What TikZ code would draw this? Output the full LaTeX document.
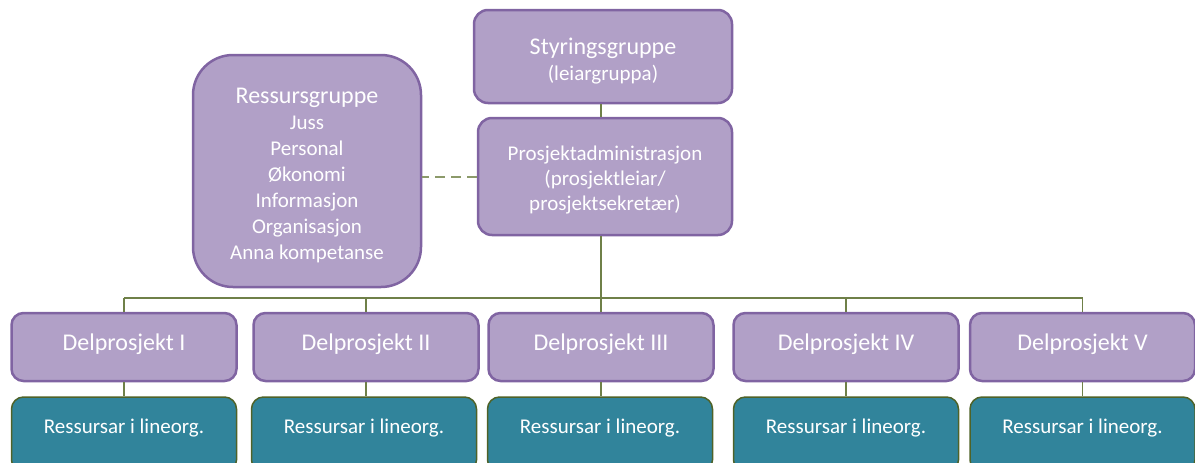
\documentclass[tikz,border=0pt]{standalone}
\usepackage{fontspec}
\setmainfont{Carlito}
\definecolor{pfill}{HTML}{B1A0C7}
\definecolor{pline}{HTML}{8064A2}
\definecolor{tfill}{HTML}{31849B}
\definecolor{tline}{HTML}{4F6228}
\definecolor{conn}{HTML}{6F8048}
\definecolor{dashc}{HTML}{8C9A6A}
\newcommand{\bigtxt}{\fontsize{24}{26}\selectfont}
\tikzset{
  pbox/.style={draw=pline, fill=pfill, line width=2.5pt, rounded corners=14pt,
    text=white, align=center, inner sep=0pt, font=\fontsize{21}{26}\selectfont},
  dbox/.style={pbox, minimum width=225pt, minimum height=68pt, rounded corners=12pt,
    font=\bigtxt, text depth=9pt},
  tbox/.style={draw=tline, fill=tfill, line width=1.5pt, rounded corners=12pt,
    text=white, align=center, inner sep=0pt, minimum width=225pt, minimum height=75pt,
    font=\fontsize{21}{24}\selectfont, text depth=16.5pt},
  cline/.style={draw=conn, line width=1.5pt},
  dline/.style={draw=dashc, line width=2pt, dash pattern=on 10pt off 6pt},
}
\begin{document}
\begin{tikzpicture}[x=1pt,y=-1pt]
\useasboundingbox (0,0) rectangle (1195,463);
% top boxes
\node[pbox, minimum width=258pt, minimum height=93pt] (styr) at (603,56.5)
  {{\bigtxt\rule{0pt}{26pt}Styringsgruppe}\\(leiargruppa)};
\node[pbox, minimum width=254pt, minimum height=117pt, font=\fontsize{21}{25}\selectfont] (adm) at (605,176.5)
  {\rule{0pt}{21pt}Prosjektadministrasjon\\(prosjektleiar/\\prosjektsekretær)};
\node[pbox, minimum width=228pt, minimum height=232pt, rounded corners=40pt] (res) at (307,171)
  {{\bigtxt\rule{0pt}{24pt}Ressursgruppe}\\Juss\\Personal\\Økonomi\\Informasjon\\Organisasjon\\Anna kompetanse};
% sub projects
\node[dbox] (d1) at (124,347) {Delprosjekt I};
\node[dbox] (d2) at (366,347) {Delprosjekt II};
\node[dbox] (d3) at (601,347) {Delprosjekt III};
\node[dbox] (d4) at (846,347) {Delprosjekt IV};
\node[dbox] (d5) at (1082.5,347) {Delprosjekt V};
% resources
\node[tbox] (r1) at (124,434.5) {Ressursar i lineorg.};
\node[tbox] (r2) at (364,434.5) {Ressursar i lineorg.};
\node[tbox] (r3) at (600,434.5) {Ressursar i lineorg.};
\node[tbox] (r4) at (846,434.5) {Ressursar i lineorg.};
\node[tbox] (r5) at (1082.5,434.5) {Ressursar i lineorg.};
% connectors
\coordinate (bus) at (601,298);
\draw[cline] (styr.south -| bus) -- (adm.north -| bus);
\draw[cline] (adm.south -| bus) -- (bus);
\draw[cline] (d1.north |- bus) -- (d5.north |- bus);
\foreach \i in {1,...,5}{
  \draw[cline] (d\i.north |- bus) -- (d\i.north);
  \draw[cline] (d\i.south) -- (r\i.north -| d\i.south);
}
\draw[dline] (adm.west) -- (adm.west -| res.east);
\end{tikzpicture}
\end{document}
